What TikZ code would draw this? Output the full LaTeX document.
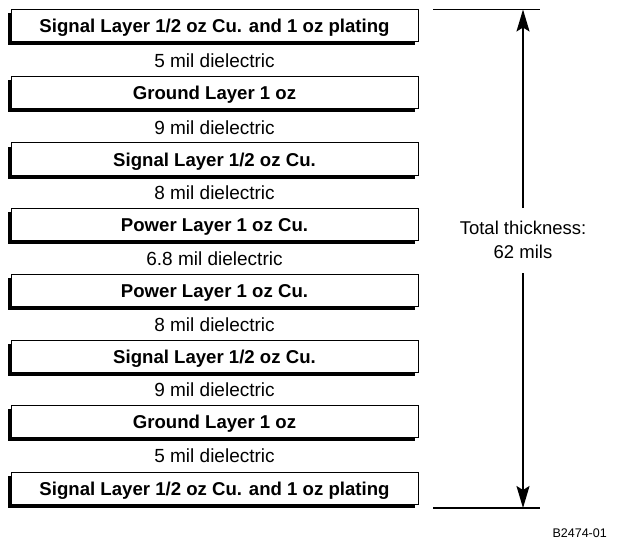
\documentclass[tikz,border=0pt]{standalone}
\usepackage{fontspec}
\setmainfont{Liberation Sans}
\usetikzlibrary{arrows.meta}
\begin{document}
\begin{tikzpicture}[x=1pt,y=-1pt,
  layerbox/.style={draw=black, line width=1pt, fill=white, minimum width=407pt, minimum height=32pt, inner sep=0pt,
     text height=14pt, text depth=0pt,
     font=\fontsize{18.6}{22}\selectfont\bfseries},
  diel/.style={inner sep=0pt, font=\fontsize{19}{22}\selectfont},
  dim/.style={line width=1.1pt},
  arr/.style={line width=1.6pt, -{Stealth[length=22pt,width=13pt,inset=4pt]}}
]
\useasboundingbox (0,0) rectangle (617,540);
% shadows
\foreach \t in {10,77,143,208,274,340,405,472}{
  \fill[black] (7.5,\t+3.5) rectangle (414.5,\t+35.5);
}
\node[layerbox] (l1) at (214.5,26) {Signal Layer 1/2 oz Cu. and 1 oz plating};
\node[diel] (d1) at (214.5,61) {5 mil dielectric};
\node[layerbox] (l2) at (214.5,93) {Ground Layer 1 oz};
\node[diel] (d2) at (214.5,128) {9 mil dielectric};
\node[layerbox] (l3) at (214.5,159) {Signal Layer 1/2 oz Cu.};
\node[diel] (d3) at (214.5,193) {8 mil dielectric};
\node[layerbox] (l4) at (214.5,224) {Power Layer 1 oz Cu.};
\node[diel] (d4) at (214.5,259) {6.8 mil dielectric};
\node[layerbox] (l5) at (214.5,290) {Power Layer 1 oz Cu.};
\node[diel] (d5) at (214.5,325) {8 mil dielectric};
\node[layerbox] (l6) at (214.5,356) {Signal Layer 1/2 oz Cu.};
\node[diel] (d6) at (214.5,390) {9 mil dielectric};
\node[layerbox] (l7) at (214.5,421) {Ground Layer 1 oz};
\node[diel] (d7) at (214.5,456) {5 mil dielectric};
\node[layerbox] (l8) at (214.5,488) {Signal Layer 1/2 oz Cu. and 1 oz plating};
% dimension
\coordinate (topL) at (433,9.5);
\coordinate (topR) at (540,9.5);
\coordinate (botL) at (433,508);
\coordinate (botR) at (540,508);
\coordinate (topTip) at (523,9.5);
\coordinate (botTip) at (523,508);
\coordinate (arrA) at (523,208);
\coordinate (arrB) at (523,273);
\draw[dim] (topL) -- (topR);
\draw[dim] (botL) -- (botR);
\node[align=center, inner sep=0pt, font=\fontsize{18.5}{24}\selectfont] (tt) at (523,240) {Total thickness:\\62 mils};
\draw[arr] (arrA) -- (topTip);
\draw[arr] (arrB) -- (botTip);
\node[inner sep=0pt, anchor=east, font=\fontsize{12.5}{14}\selectfont] (ref) at (607,533) {B2474-01};
\end{tikzpicture}
\end{document}
